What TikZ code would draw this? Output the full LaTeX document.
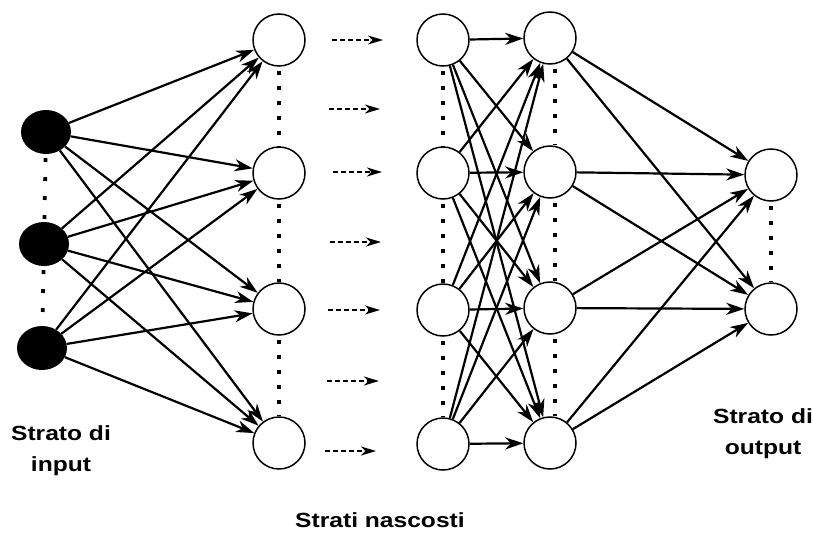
\documentclass[tikz,border=0pt]{standalone}
\usepackage{fontspec}
\newfontfamily\labfont{Liberation Sans}[FakeStretch=1.2]
\usetikzlibrary{arrows.meta,shapes.geometric}
\begin{document}
\begin{tikzpicture}[x=1pt,y=-1pt,
  neuron/.style={circle,draw,line width=1.5pt,minimum size=52pt,inner sep=0pt,fill=white},
  inneuron/.style={ellipse,fill=black,minimum width=50pt,minimum height=44pt,inner sep=0pt},
  link/.style={line width=2.2pt,-{Stealth[length=18pt,width=12pt,inset=5.5pt]}},
  flow/.style={line width=1.8pt,dash pattern=on 5pt off 3pt,-{Stealth[length=15pt,width=9pt,inset=4.5pt]}},
  dotcol/.style={line width=3.8pt,dash pattern=on 3.8pt off 11.2pt,dash phase=-4pt},
  lab/.style={font=\labfont\bfseries\fontsize{20.5}{31}\selectfont,align=center,inner sep=0pt}]
\useasboundingbox (0,0) rectangle (813,533);

% input layer
\node[inneuron] (i1) at (46,132) {};
\node[inneuron] (i2) at (44,244) {};
\node[inneuron] (i3) at (42,348) {};

% first hidden layer
\node[neuron] (a1) at (279,40) {};
\node[neuron] (a2) at (279,173) {};
\node[neuron] (a3) at (279,309) {};
\node[neuron] (a4) at (279,443) {};

% second hidden layer
\node[neuron] (b1) at (443,40) {};
\node[neuron] (b2) at (443,173) {};
\node[neuron] (b3) at (443,310) {};
\node[neuron] (b4) at (443,444) {};

% third hidden layer
\node[neuron] (c1) at (550,38) {};
\node[neuron] (c2) at (550,172) {};
\node[neuron] (c3) at (550,308) {};
\node[neuron] (c4) at (550,443) {};

% output layer
\node[neuron] (o1) at (771,175) {};
\node[neuron] (o2) at (771,309) {};

% dotted columns
\draw[dotcol,dash pattern=on 3.8pt off 15.2pt] (i1) -- (i2);
\draw[dotcol,dash pattern=on 3.8pt off 15.2pt] (i2) -- (i3);
\foreach \l in {a,b}{
  \draw[dotcol] (\l1) -- (\l2);
  \draw[dotcol] (\l2) -- (\l3);
  \draw[dotcol] (\l3) -- (\l4);
}
\draw[dotcol] ([xshift=5pt]c1.south) -- ([xshift=5pt]c2.north);
\draw[dotcol] ([xshift=5pt]c2.south) -- ([xshift=5pt]c3.north);
\draw[dotcol] ([xshift=5pt]c3.south) -- ([xshift=5pt]c4.north);
\draw[dotcol] (o1) -- (o2);

% full connections
\foreach \s in {1,2,3}
  \foreach \t in {1,2,3,4}
    \draw[link] (i\s) -- (a\t);
\foreach \s in {1,2,3,4}
  \foreach \t in {1,2,3,4}
    \draw[link] (b\s) -- (c\t);
\foreach \s in {1,2,3,4}
  \foreach \t in {1,2}
    \draw[link] (c\s) -- (o\t);

% omitted hidden layers
\foreach \k/\y/\xa/\xb in {1/40/332/383, 2/109/329/380, 3/172/333/382, 4/242/330/381,
                           5/310/328/380, 6/381/327/379, 7/451/325/376}{
  \coordinate (fs\k) at (\xa,\y);
  \coordinate (fe\k) at (\xb,\y);
  \draw[flow] (fs\k) -- (fe\k);
}

% labels
\node[lab] (lin) at (61,451) {Strato di\\input};
\node[lab] (lout) at (763,434) {Strato di\\output};
\node[lab,anchor=base] (lhid) at (380,527) {Strati nascosti};
\end{tikzpicture}
\end{document}
